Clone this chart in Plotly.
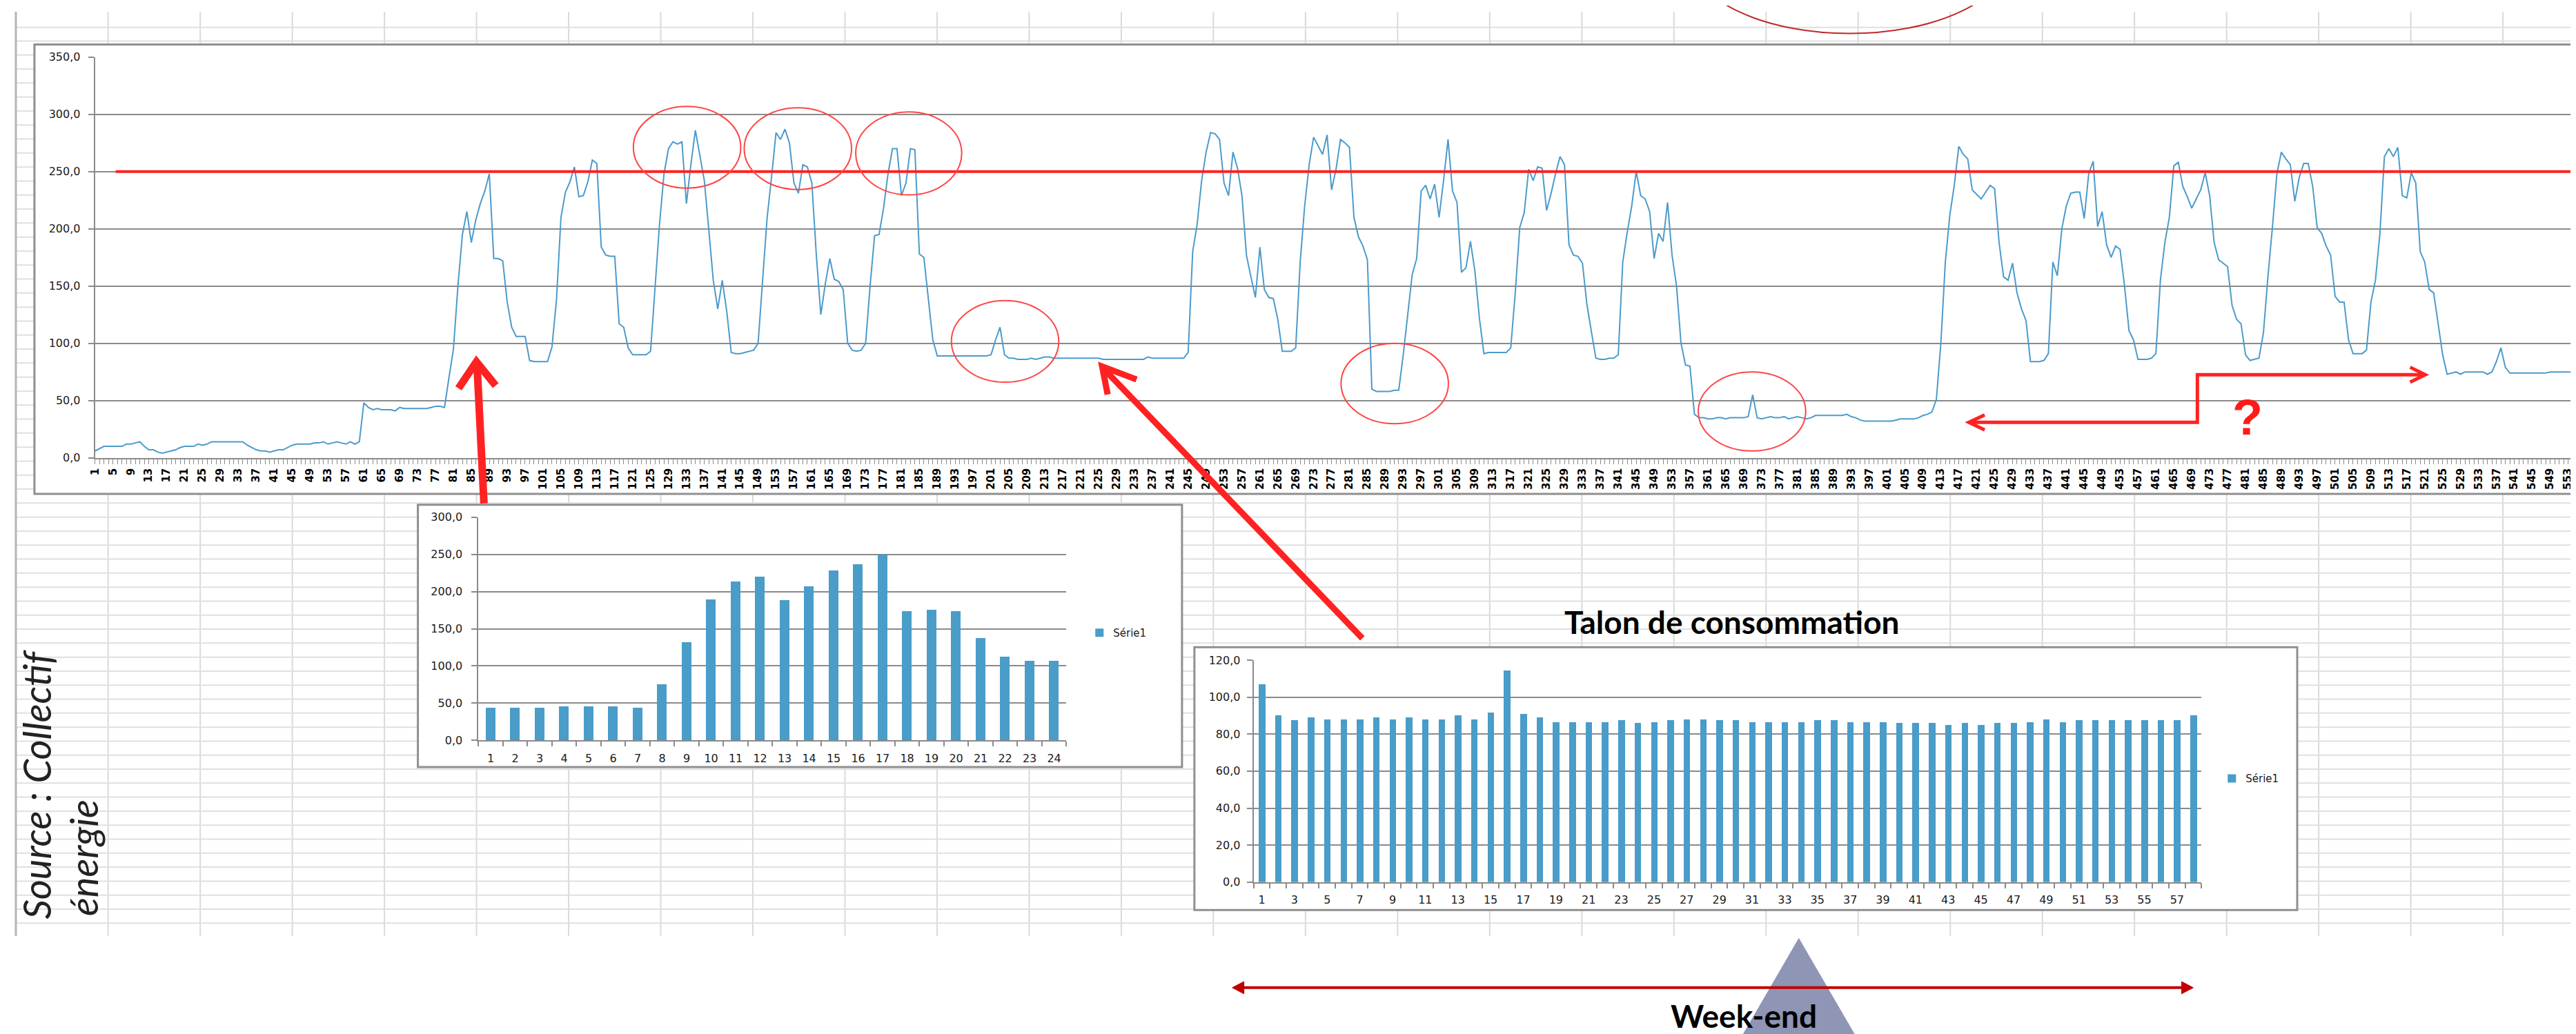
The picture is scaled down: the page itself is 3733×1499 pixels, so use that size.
import plotly.graph_objects as go

W, H = 3733, 1499

def fx(x):
    return x / W

def fy(y):
    return 1 - y / H

# ---------------- DATA ----------------
# Main chart: hourly consumption (kW), categories 1..556 visible
conso = [
    6, 8, 10, 10, 10, 10, 10, 12, 12, 13,
    14, 10, 7, 7, 5, 4, 5, 6, 7, 9,
    10, 10, 10, 12, 11, 12, 14, 14, 14, 14,
    14, 14, 14, 14, 11, 9, 7, 6, 6, 5,
    6, 7, 7, 9, 11, 12, 12, 12, 12, 13,
    13, 14, 12, 13, 14, 13, 12, 14, 12, 14,
    48, 44, 42, 43, 42, 42, 42, 41, 44, 43,
    43, 43, 43, 43, 43, 44, 45, 45, 44, 70,
    95, 150, 195, 215, 188, 208, 222, 233, 248, 174,
    174, 172, 136, 114, 106, 106, 106, 85, 84, 84,
    84, 84, 97, 138, 210, 232, 241, 254, 228, 229,
    241, 260, 257, 184, 177, 176, 176, 117, 114, 96,
    90, 90, 90, 90, 93, 150, 204, 248, 270, 276,
    274, 276, 222, 256, 286, 264, 242, 199, 155, 130,
    155, 128, 92, 91, 91, 92, 93, 94, 100, 155,
    209, 245, 284, 278, 287, 275, 240, 231, 256, 254,
    240, 177, 125, 152, 174, 156, 154, 147, 100, 94,
    93, 94, 100, 150, 194, 195, 218, 248, 270, 270,
    229, 240, 270, 269, 178, 175, 139, 103, 89, 89,
    89, 89, 89, 89, 89, 89, 89, 89, 89, 89,
    90, 103, 114, 90, 87, 87, 86, 86, 86, 87,
    86, 87, 88, 88, 87, 87, 87, 87, 87, 87,
    87, 87, 87, 87, 87, 86, 86, 86, 86, 86,
    86, 86, 86, 86, 86, 88, 87, 87, 87, 87,
    87, 87, 87, 87, 92, 180, 204, 242, 267, 284,
    283, 278, 240, 229, 267, 253, 229, 177, 158, 140,
    184, 147, 140, 139, 121, 93, 93, 93, 96, 171,
    220, 256, 280, 272, 265, 282, 234, 252, 278, 275,
    271, 210, 193, 185, 173, 60, 58, 58, 58, 58,
    59, 59, 90, 125, 160, 174, 233, 238, 226, 239,
    210, 242, 278, 233, 223, 162, 166, 189, 163, 122,
    91, 92, 92, 92, 92, 92, 96, 144, 201, 214,
    252, 242, 254, 253, 216, 231, 248, 263, 256, 186,
    177, 176, 170, 134, 110, 87, 86, 86, 87, 87,
    90, 171, 197, 220, 250, 229, 226, 215, 174, 196,
    189, 223, 177, 150, 100, 81, 80, 38, 35, 35,
    34, 34, 35, 35, 34, 35, 35, 35, 35, 36,
    55, 35, 34, 35, 36, 35, 35, 36, 34, 35,
    36, 35, 34, 35, 37, 37, 37, 37, 37, 37,
    37, 38, 36, 35, 33, 32, 32, 32, 32, 32,
    32, 32, 33, 34, 34, 34, 34, 35, 37, 38,
    40, 51, 100, 171, 212, 238, 272, 265, 261, 234,
    230, 226, 232, 238, 235, 188, 158, 155, 170, 144,
    130, 120, 84, 84, 84, 85, 91, 171, 159, 200,
    220, 231, 232, 232, 209, 248, 259, 202, 215, 186,
    175, 185, 182, 150, 111, 103, 86, 86, 86, 87,
    91, 155, 188, 210, 255, 258, 237, 228, 218, 226,
    234, 249, 229, 188, 173, 170, 167, 133, 121, 117,
    90, 85, 86, 87, 109, 158, 201, 248, 267, 261,
    256, 224, 245, 257, 257, 237, 201, 196, 185, 177,
    141, 136, 136, 103, 91, 91, 91, 94, 136, 155,
    196, 263, 270, 263, 271, 229, 227, 249, 240, 180,
    171, 147, 144, 117, 90, 73, 74, 75, 73, 75,
    75, 75, 75, 75, 73, 75, 84, 96, 79, 74,
    74, 74, 74, 74, 74, 74, 74, 74, 75, 75,
    75, 75, 75, 75, 75, 75,
]
heures = list(range(1, len(conso) + 1))
main_ticktext = [str(h) if (h - 1) % 4 == 0 else "" for h in heures]

# Hourly profile (one day)
jour_heures = list(range(1, 25))
jour_valeurs = [44, 44, 44, 46, 46, 46, 44, 76, 132, 190, 214, 220,
                189, 207, 229, 237, 250, 174, 176, 174, 138, 113, 107, 107]

# "Talon de consommation" (week-end baseload)
talon_idx = list(range(1, 59))
talon_valeurs = [107, 90, 87.5, 89, 88, 88, 88, 89, 88, 89,
                 88, 88, 90, 88, 91.5, 114.5, 91, 89, 86.5, 86.5,
                 86.5, 86.5, 87.5, 86, 86.5, 87.5, 88, 88, 87.5, 87.5,
                 86.5, 86.5, 86.5, 86.5, 87.5, 87.5, 86.5, 86.5, 86.5, 86,
                 86, 86, 85, 86, 85, 86, 86, 86.5, 88, 86.5,
                 87.5, 87.5, 87.5, 87.5, 87.5, 87.5, 87.5, 90]

SEUIL = 250

BLUE_LINE = "#4b9bcb"
BLUE_BAR = "#4a9cc9"
GRID = "#8a8a8a"
FONT = "DejaVu Sans"

# ---------------- TRACES ----------------
fig = go.Figure()
fig.add_trace(go.Scatter(x=heures, y=conso, mode="lines",
                         line=dict(color=BLUE_LINE, width=2),
                         showlegend=False, xaxis="x", yaxis="y", name="conso"))
fig.add_trace(go.Bar(x=jour_heures, y=jour_valeurs, marker=dict(color=BLUE_BAR, line=dict(width=0)),
                     width=0.4, name="Série1", xaxis="x2", yaxis="y2", legend="legend"))
fig.add_trace(go.Bar(x=talon_idx, y=talon_valeurs, marker=dict(color=BLUE_BAR, line=dict(width=0)),
                     width=0.4, name="Série1", xaxis="x3", yaxis="y3", legend="legend2"))

# ---------------- SHAPES ----------------
shapes = []

def seg(x0, y0, x1, y1, color, width, layer="above"):
    shapes.append(dict(type="line", xref="paper", yref="paper",
                       x0=fx(x0), y0=fy(y0), x1=fx(x1), y1=fy(y1),
                       line=dict(color=color, width=width), layer=layer))

def rect(x0, y0, x1, y1, fill, color, width, layer="below"):
    shapes.append(dict(type="rect", xref="paper", yref="paper",
                       x0=fx(x0), y0=fy(y1), x1=fx(x1), y1=fy(y0),
                       fillcolor=fill, line=dict(color=color, width=width), layer=layer))

def ellipse(cx, cy, rx, ry, color, width):
    shapes.append(dict(type="circle", xref="paper", yref="paper",
                       x0=fx(cx - rx), x1=fx(cx + rx), y0=fy(cy + ry), y1=fy(cy - ry),
                       line=dict(color=color, width=width), layer="above"))

def path(pts, color, width, fill=None, closed=False):
    d = "M " + " L ".join(f"{fx(x):.6f},{fy(y):.6f}" for x, y in pts)
    if closed:
        d += " Z"
    s = dict(type="path", xref="paper", yref="paper", path=d,
             line=dict(color=color, width=width), layer="above")
    if fill:
        s["fillcolor"] = fill
    shapes.append(s)

# spreadsheet background grid
for k in range(1, 28):
    x = 6.2 + 133.8 * k
    seg(x, 0, x, 1357, "#dadada", 2, "below")
for y in [23] + [43 + 20.56 * k for k in range(64)]:
    seg(6, y, 3733, y, "#e0e0e0", 2, "below")
seg(6, 0, 6, 1357, "#b4b4b4", 3, "below")

# chart frames
rect(33, 48, 3760, 708, "white", "#8f8f8f", 3)
rect(590, 724, 1700, 1109, "white", "#8f8f8f", 3)
rect(1718, 933, 3320, 1319, "white", "#8f8f8f", 3)

# threshold line at 250
shapes.append(dict(type="line", xref="paper", yref="y", x0=fx(151), x1=1.0, y0=SEUIL, y1=SEUIL,
                   line=dict(color="#ff2020", width=4), layer="above"))

# circles
RC = "#ff4545"
for cx, cy, rx, ry in [(981, 199, 78, 60), (1142, 201, 78, 60), (1303, 208, 77, 61),
                       (1443, 484, 78, 60), (2009, 546, 78, 59), (2528, 587, 78, 58)]:
    ellipse(cx, cy, rx, ry, RC, 2)
ellipse(2670, -80, 230, 112, "#c0282d", 2)

# arrows
RA = "#ff2222"
seg(686, 722, 676, 520, RA, 11)
path([(649, 553), (675, 514), (703, 549)], RA, 11)
seg(1962, 920, 1587, 525, RA, 9)
path([(1592, 562), (1584, 521), (1634, 540)], RA, 9)
path([(2845, 603), (3175, 603), (3175, 533), (3504, 533)], RA, 5)
path([(2866, 592), (2843, 603), (2866, 614)], RA, 5)
path([(3484, 522), (3506, 533), (3484, 544)], RA, 5)

# week-end triangle and double arrow
path([(2596, 1360), (2504, 1520), (2688, 1520)], "#8e95b5", 0, fill="#8e95b5", closed=True)
seg(1786, 1433, 3156, 1433, "#c00000", 4)
path([(1773, 1433), (1790, 1424), (1790, 1442)], "#c00000", 1, fill="#c00000", closed=True)
path([(3169, 1433), (3152, 1424), (3152, 1442)], "#c00000", 1, fill="#c00000", closed=True)

# ---------------- ANNOTATIONS ----------------
annotations = [
    dict(text="<b>Talon de consommation</b>", x=fx(2499), y=fy(896), xref="paper", yref="paper",
         showarrow=False, xanchor="center", yanchor="middle",
         font=dict(family="Lato", size=46, color="black")),
    dict(text="<b>Week-end</b>", x=fx(2516), y=fy(1474), xref="paper", yref="paper",
         showarrow=False, xanchor="center", yanchor="middle",
         font=dict(family="Lato", size=46, color="black")),
    dict(text="<b>?</b>", x=fx(3248), y=fy(596), xref="paper", yref="paper",
         showarrow=False, xanchor="center", yanchor="middle",
         font=dict(family="Liberation Sans", size=72, color="#ff1a1a")),
    dict(text="<i>Source : Collectif</i>", x=fx(36), y=fy(1134), xref="paper", yref="paper",
         showarrow=False, xanchor="center", yanchor="middle", textangle=-90,
         font=dict(family="Lato", size=56, color="#222222")),
    dict(text="<i>énergie</i>", x=fx(104), y=fy(1242), xref="paper", yref="paper",
         showarrow=False, xanchor="center", yanchor="middle", textangle=-90,
         font=dict(family="Lato", size=56, color="#222222")),
]

tickfont = dict(family=FONT, size=16, color="#1a1a1a")

common_y = dict(showgrid=True, gridcolor=GRID, gridwidth=2, zeroline=False,
                showline=True, linecolor=GRID, linewidth=2, ticks="outside",
                ticklen=8, tickcolor=GRID, tickwidth=2, tickformat=".1f",
                tickfont=tickfont, tick0=0)

fig.update_layout(
    width=W, height=H, margin=dict(l=0, r=0, t=0, b=0),
    paper_bgcolor="white", plot_bgcolor="rgba(0,0,0,0)",
    separators=", ", bargap=0,
    shapes=shapes, annotations=annotations,
    xaxis=dict(domain=[fx(121), 1.0], range=[1, len(conso)], anchor="y",
               showgrid=False, zeroline=False, showline=True, linecolor=GRID, linewidth=2,
               ticks="outside", ticklen=7, tickcolor=GRID, tickwidth=1,
               tickmode="array", tickvals=heures, ticktext=main_ticktext, tickangle=-90,
               tickfont=dict(family=FONT, size=15, color="black", weight="bold")),
    yaxis=dict(domain=[fy(655), fy(66.5)], range=[0, 350], dtick=50, anchor="x",
               ticklabelstandoff=8, **common_y),
    xaxis2=dict(domain=[fx(678), fx(1532)], range=[0.5, 24.5], anchor="y2",
                showgrid=False, zeroline=False, showline=True, linecolor=GRID, linewidth=2,
                tickmode="array", tickvals=jour_heures, ticks="", tickfont=tickfont,
                ticklabelstandoff=10,
                minor=dict(tickmode="array", tickvals=[h + 0.5 for h in range(0, 25)],
                           ticks="outside", ticklen=7, tickcolor=GRID, tickwidth=2, showgrid=False)),
    yaxis2=dict(domain=[fy(1070), fy(742)], range=[0, 300], dtick=50, anchor="x2",
                ticklabelstandoff=10, **common_y),
    xaxis3=dict(domain=[fx(1804), fx(3181)], range=[0.5, 58.5], anchor="y3",
                showgrid=False, zeroline=False, showline=True, linecolor=GRID, linewidth=2,
                tickmode="array", tickvals=[i for i in talon_idx if i % 2 == 1], ticks="",
                tickfont=tickfont, ticklabelstandoff=10,
                minor=dict(tickmode="array", tickvals=[i + 0.5 for i in range(0, 59)],
                           ticks="outside", ticklen=7, tickcolor=GRID, tickwidth=2, showgrid=False)),
    yaxis3=dict(domain=[fy(1278), fy(952)], range=[0, 120], dtick=20, anchor="x3",
                ticklabelstandoff=6, **common_y),
    legend=dict(x=fx(1560), y=fy(912), xanchor="left", yanchor="middle",
                bgcolor="rgba(0,0,0,0)", itemwidth=30,
                font=dict(family=FONT, size=15, color="#1a1a1a")),
    legend2=dict(x=fx(3205), y=fy(1126), xanchor="left", yanchor="middle",
                 bgcolor="rgba(0,0,0,0)", itemwidth=30,
                 font=dict(family=FONT, size=15, color="#1a1a1a")),
)

fig.write_html("out.html")
